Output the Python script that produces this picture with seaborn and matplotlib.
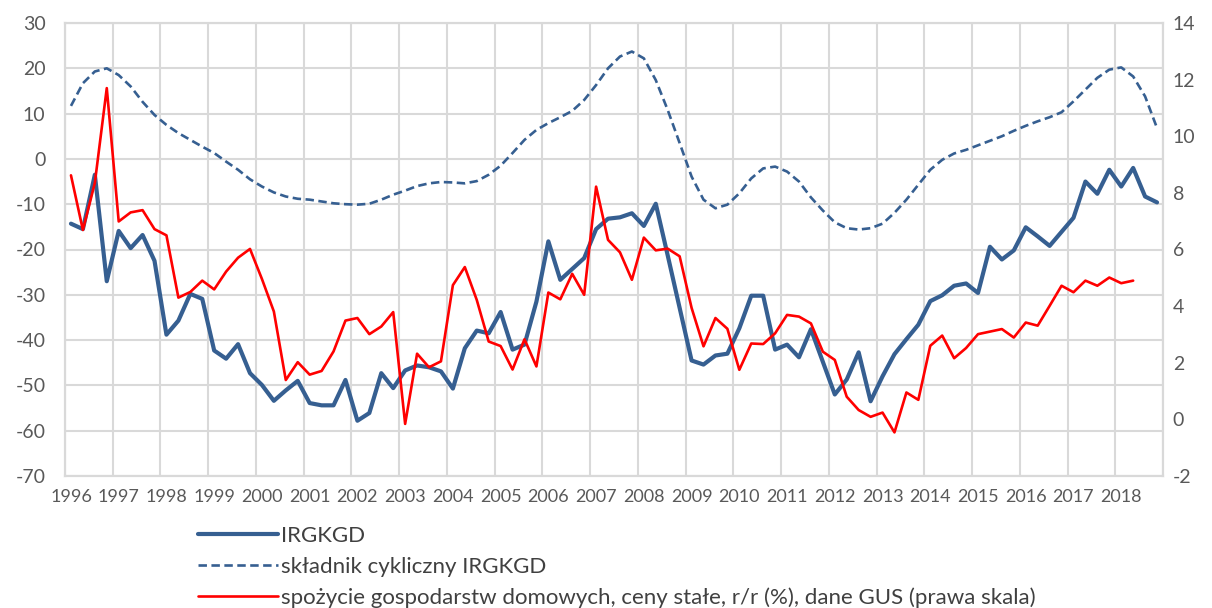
import numpy as np
import pandas as pd
import matplotlib
matplotlib.use("Agg")
import matplotlib.pyplot as plt
import seaborn as sns

# dane kwartalne 1996Q1 - 2018Q4
years = list(range(1996, 2019))

irgkgd = [
    -14.3, -15.5, -3.5, -27.0,
    -15.9, -19.7, -16.8, -22.5,
    -38.8, -35.7, -29.8, -30.9,
    -42.3, -44.1, -40.9, -47.3,
    -49.9, -53.4, -51.1, -49.0,
    -53.9, -54.4, -54.4, -48.8,
    -57.8, -56.1, -47.3, -50.6,
    -46.7, -45.6, -46.0, -46.9,
    -50.7, -41.8, -37.9, -38.5,
    -33.8, -42.1, -41.0, -31.5,
    -18.2, -26.7, -24.3, -21.9,
    -15.5, -13.2, -12.9, -12.0,
    -14.8, -9.9, -21.3, -32.9,
    -44.5, -45.4, -43.4, -43.0,
    -37.4, -30.2, -30.2, -42.1,
    -41.0, -43.8, -37.6, -44.8,
    -52.0, -48.7, -42.7, -53.5,
    -48.0, -43.1, -39.8, -36.6,
    -31.4, -30.1, -28.0, -27.5,
    -29.6, -19.4, -22.2, -20.2,
    -15.1, -17.1, -19.2, -16.1,
    -13.0, -5.0, -7.7, -2.4,
    -6.1, -2.0, -8.3, -9.6,
]

cykl = [
    11.7, 16.7, 19.3, 20.0,
    18.5, 16.0, 12.6, 9.7,
    7.5, 5.7, 4.2, 2.7,
    1.3, -0.6, -2.4, -4.5,
    -6.1, -7.4, -8.3, -8.8,
    -9.0, -9.4, -9.8, -10.0,
    -10.1, -9.9, -9.0, -7.9,
    -7.0, -6.0, -5.4, -5.1,
    -5.2, -5.4, -4.9, -3.5,
    -1.5, 1.3, 4.2, 6.4,
    7.9, 9.2, 10.6, 13.0,
    16.3, 20.0, 22.6, 23.7,
    22.2, 17.4, 10.8, 3.5,
    -3.9, -9.0, -10.9, -10.1,
    -7.6, -4.3, -2.1, -1.7,
    -2.8, -5.0, -8.5, -11.4,
    -14.0, -15.3, -15.6, -15.3,
    -14.3, -11.9, -9.0, -5.7,
    -2.4, -0.2, 1.2, 2.0,
    3.0, 4.0, 5.0, 6.2,
    7.3, 8.3, 9.2, 10.3,
    12.7, 15.3, 17.9, 19.7,
    20.2, 18.2, 13.8, 6.8,
]

# prawa skala, do 2018Q2
spozycie = [
    8.62, 6.69, 8.35, 11.70,
    6.99, 7.31, 7.39, 6.72,
    6.50, 4.30, 4.50, 4.90,
    4.59, 5.22, 5.71, 6.02,
    4.96, 3.81, 1.39, 2.02,
    1.58, 1.71, 2.40, 3.49,
    3.58, 3.01, 3.28, 3.79,
    -0.16, 2.32, 1.84, 2.05,
    4.74, 5.38, 4.22, 2.75,
    2.59, 1.76, 2.83, 1.87,
    4.48, 4.24, 5.14, 4.40,
    8.22, 6.34, 5.90, 4.93,
    6.42, 5.97, 6.03, 5.76,
    3.94, 2.58, 3.58, 3.20,
    1.75, 2.68, 2.66, 3.04,
    3.69, 3.63, 3.39, 2.39,
    2.10, 0.80, 0.33, 0.09,
    0.24, -0.46, 0.95, 0.69,
    2.60, 2.96, 2.16, 2.52,
    3.01, 3.10, 3.19, 2.89,
    3.42, 3.31, 4.01, 4.72,
    4.49, 4.90, 4.72, 5.01,
    4.81, 4.90,
]

labels = [
    "IRGKGD",
    "składnik cykliczny IRGKGD",
    "spożycie gospodarstw domowych, ceny stałe, r/r (%), dane GUS (prawa skala)",
]

BLUE = "#365F91"
RED = "#FF0000"
GRID = "#D9D9D9"
TXT = "#595959"

sns.set_style("white")
plt.rcParams["font.family"] = ["Lato", "DejaVu Sans"]
plt.rcParams["axes.unicode_minus"] = False

df = pd.DataFrame({"q": np.arange(len(irgkgd)), "irgkgd": irgkgd, "cykl": cykl})
df_r = pd.DataFrame({"q": np.arange(len(spozycie)), "spozycie": spozycie})

fig = plt.figure(figsize=(12.12, 6.08), dpi=100)
ax = fig.add_axes([65 / 1212, 1 - 476 / 608, (1163 - 65) / 1212, (476 - 23) / 608])

sns.lineplot(data=df, x="q", y="irgkgd", ax=ax, color=BLUE, linewidth=3.0,
             label=labels[0], legend=False)
sns.lineplot(data=df, x="q", y="cykl", ax=ax, color=BLUE, linewidth=1.9,
             label=labels[1], legend=False)
ax.lines[-1].set_dashes((3.2, 1.7))

ax2 = ax.twinx()
sns.lineplot(data=df_r, x="q", y="spozycie", ax=ax2, color=RED, linewidth=1.9,
             label=labels[2], legend=False)

n = len(irgkgd)
ax.set_xlim(-0.5, n - 0.5)
ax.set_ylim(-70, 30)
ax.set_yticks(np.arange(-70, 31, 10))
ax2.set_ylim(-2, 14)
ax2.set_yticks(np.arange(-2, 15, 2))

ax.set_xticks(np.arange(0, n, 4))
ax.set_xticklabels([str(y) for y in years])
ax.set_xticks(np.arange(-0.5, n, 4), minor=True)

ax.grid(False)
ax2.grid(False)
ax.grid(True, which="minor", axis="x", color=GRID, linewidth=1.5)
ax.grid(True, which="major", axis="y", color=GRID, linewidth=1.5)
ax.set_axisbelow(True)

for a in (ax, ax2):
    for s in a.spines.values():
        s.set_color(GRID)
        s.set_linewidth(1.5)
    a.set_xlabel("")
    a.set_ylabel("")

ax.tick_params(axis="x", which="both", length=0, pad=9, labelsize=13, labelcolor=TXT)
ax.tick_params(axis="y", length=0, pad=14, labelsize=14, labelcolor=TXT)
ax2.tick_params(axis="y", length=0, pad=7, labelsize=14, labelcolor=TXT)

h1, l1 = ax.get_legend_handles_labels()
h2, l2 = ax2.get_legend_handles_labels()
fig.legend(h1 + h2, l1 + l2, loc="upper left",
           bbox_to_anchor=(198 / 1212, 1 - 526 / 608),
           frameon=False, fontsize=16, labelcolor="#404040",
           handlelength=3.6, handletextpad=0.15, labelspacing=0.48,
           borderpad=0, borderaxespad=0)

fig.savefig("out.png", dpi=100)
